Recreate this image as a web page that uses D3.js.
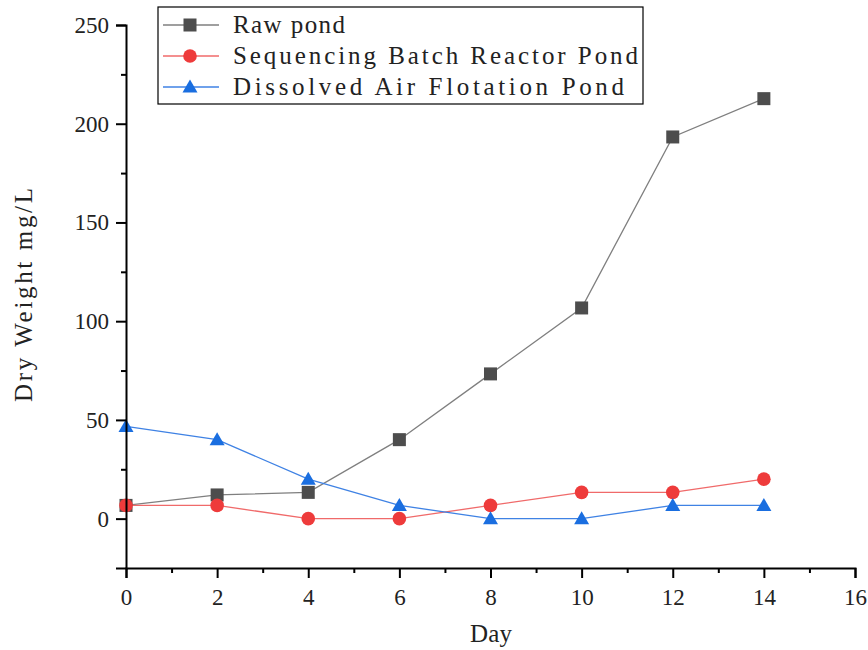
<!DOCTYPE html>
<html>
<head>
<meta charset="utf-8">
<script src="https://cdn.jsdelivr.net/npm/d3@7"></script>
<style>
  body { margin: 0; background: #fff; }
  svg { display: block; }
</style>
</head>
<body>
<div id="chart"></div>
<script>
// data
const days = [0, 2, 4, 6, 8, 10, 12, 14];
const rawPond = [6.7, 12, 13.3, 40, 73.3, 106.7, 193.3, 212.7];
const sbrPond = [6.7, 6.7, 0, 0, 6.7, 13.3, 13.3, 20];
const dafPond = [46.7, 40, 20, 6.7, 0, 0, 6.7, 6.7];
const xTicks = [0, 2, 4, 6, 8, 10, 12, 14, 16];
const yTicks = [0, 50, 100, 150, 200, 250];

const series = [
    { name: 'Raw pond', values: rawPond, marker: 'square', fill: '#4d4d4d', stroke: '#7f7f7f' },
    { name: 'Sequencing Batch Reactor Pond', values: sbrPond, marker: 'circle', fill: '#ee3b3b', stroke: '#f06a6a' },
    { name: 'Dissolved Air Flotation Pond', values: dafPond, marker: 'triangle', fill: '#1a6ee0', stroke: '#3f82e4' }
];

const W = 868, H = 650;
const margin = { top: 25, right: 13, bottom: 82, left: 126 };
const width = W - margin.left - margin.right;
const height = H - margin.top - margin.bottom;

const svg = d3.select('#chart')
    .append('svg')
    .attr('width', W)
    .attr('height', H);

const g = svg.append('g')
    .attr('transform', `translate(${margin.left},${margin.top})`);

const x = d3.scaleLinear().domain([0, 16]).range([0, width]);
const y = d3.scaleLinear().domain([-25, 250]).range([height, 0]);

const serifFont = '"Liberation Serif", "DejaVu Serif", serif';

// series lines and markers
const line = d3.line()
    .x((d, i) => x(days[i]))
    .y(d => y(d));

function drawMarker(sel, type, fill) {
    if (type === 'square') {
        sel.append('rect')
            .attr('x', -6.5).attr('y', -6.5)
            .attr('width', 13).attr('height', 13)
            .attr('fill', fill);
    } else if (type === 'circle') {
        sel.append('circle')
            .attr('r', 6.8)
            .attr('fill', fill);
    } else {
        sel.append('path')
            .attr('d', 'M0,-7.5L7.5,5.5L-7.5,5.5Z')
            .attr('fill', fill);
    }
}

series.forEach(s => {
    g.append('path')
        .datum(s.values)
        .attr('fill', 'none')
        .attr('stroke', s.stroke)
        .attr('stroke-width', 1.3)
        .attr('d', line);
});

series.forEach(s => {
    g.selectAll(null)
        .data(s.values)
        .enter()
        .append('g')
        .attr('transform', (d, i) => `translate(${x(days[i])},${y(d)})`)
        .each(function () { drawMarker(d3.select(this), s.marker, s.fill); });
});

// axes
const xAxis = g.append('g')
    .attr('transform', `translate(0,${height})`)
    .call(d3.axisBottom(x).tickValues(xTicks).tickFormat(d3.format('d')).tickSize(10).tickPadding(11));

const xMinor = g.append('g')
    .attr('transform', `translate(0,${height})`)
    .call(d3.axisBottom(x).tickValues(d3.range(1, 16, 2)).tickFormat('').tickSize(5));

const yAxis = g.append('g')
    .call(d3.axisLeft(y).tickValues(yTicks).tickFormat(d3.format('d')).tickSize(10).tickPadding(7));

const yMinor = g.append('g')
    .call(d3.axisLeft(y).tickValues([25, 75, 125, 175, 225]).tickFormat('').tickSize(5));

[xAxis, xMinor, yAxis, yMinor].forEach(a => {
    a.attr('font-size', null).attr('font-family', null);
    a.select('.domain').attr('stroke', '#000').attr('stroke-width', 2);
    a.selectAll('.tick line').attr('stroke', '#000').attr('stroke-width', 2);
    a.selectAll('.tick text')
        .attr('fill', '#222')
        .style('font-family', serifFont)
        .style('font-size', '23px');
});
xMinor.select('.domain').remove();
yMinor.select('.domain').remove();

// axis titles
svg.append('text')
    .attr('x', 491)
    .attr('y', 642)
    .attr('text-anchor', 'middle')
    .attr('textLength', 42)
    .style('font-family', serifFont)
    .style('font-size', '25px')
    .attr('fill', '#222')
    .text('Day');

svg.append('text')
    .attr('transform', 'translate(32,295) rotate(-90)')
    .attr('text-anchor', 'middle')
    .attr('textLength', 214)
    .attr('lengthAdjust', 'spacing')
    .style('font-family', serifFont)
    .style('font-size', '25px')
    .attr('fill', '#222')
    .text('Dry Weight mg/L');

// legend
const legend = svg.append('g')
    .attr('transform', 'translate(158,7)');

legend.append('rect')
    .attr('width', 485)
    .attr('height', 97)
    .attr('fill', '#fff')
    .attr('stroke', '#000')
    .attr('stroke-width', 1.2);

const legendLens = [112, 405, 391];
series.forEach((s, i) => {
    const row = legend.append('g')
        .attr('transform', `translate(0,${18 + i * 31})`);
    row.append('line')
        .attr('x1', 5).attr('x2', 61)
        .attr('stroke', s.stroke)
        .attr('stroke-width', 1.3);
    const m = row.append('g').attr('transform', 'translate(32,0)');
    drawMarker(m, s.marker, s.fill);
    row.append('text')
        .attr('x', 75)
        .attr('y', 8)
        .attr('textLength', legendLens[i])
        .attr('lengthAdjust', 'spacing')
        .style('font-family', serifFont)
        .style('font-size', '25px')
        .attr('fill', '#222')
        .text(s.name);
});
</script>
</body>
</html>
